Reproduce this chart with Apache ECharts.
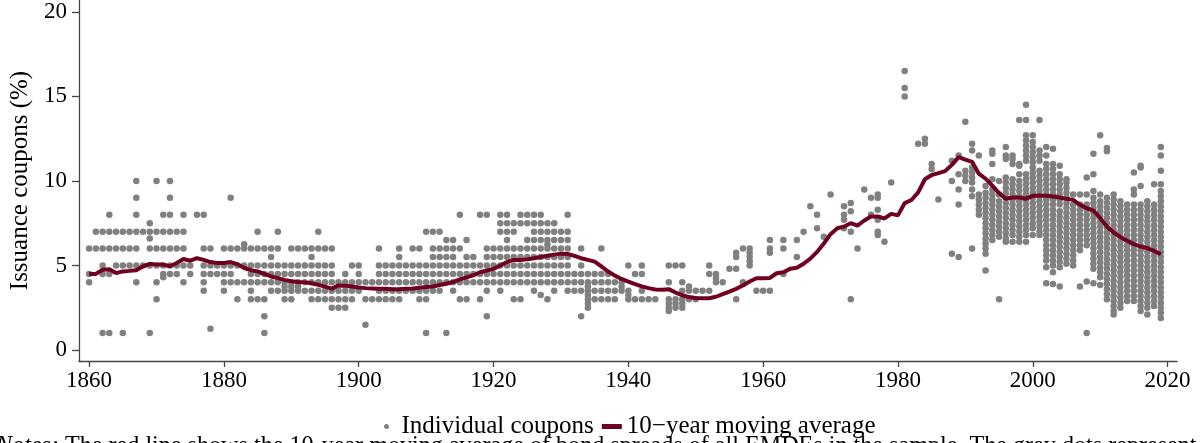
<!DOCTYPE html>
<html>
<head>
<meta charset="UTF-8">
<title>Issuance coupons</title>
<script src="https://cdn.jsdelivr.net/npm/echarts@6/dist/echarts.min.js"></script>
<style>
    html, body { margin: 0; padding: 0; background: #fff; }
    #main { width: 1200px; height: 443px; }
</style>
</head>
<body>
<div id="main"></div>
<script>
// tick labels
var xTicks = [1860, 1880, 1900, 1920, 1940, 1960, 1980, 2000, 2020];
var yTicks = [0, 5, 10, 15, 20];

// 10-year moving average
var maYears = [1860, 1861, 1862, 1863, 1864, 1865, 1866, 1867, 1868, 1869,
    1870, 1871, 1872, 1873, 1874, 1875, 1876, 1877, 1878, 1879,
    1880, 1881, 1882, 1883, 1884, 1885, 1886, 1887, 1888, 1889,
    1890, 1891, 1892, 1893, 1894, 1895, 1896, 1897, 1898, 1899,
    1900, 1901, 1902, 1903, 1904, 1905, 1906, 1907, 1908, 1909,
    1910, 1911, 1912, 1913, 1914, 1915, 1916, 1917, 1918, 1919,
    1920, 1921, 1922, 1923, 1924, 1925, 1926, 1927, 1928, 1929,
    1930, 1931, 1932, 1933, 1934, 1935, 1936, 1937, 1938, 1939,
    1940, 1941, 1942, 1943, 1944, 1945, 1946, 1947, 1948, 1949,
    1950, 1951, 1952, 1953, 1954, 1955, 1956, 1957, 1958, 1959,
    1960, 1961, 1962, 1963, 1964, 1965, 1966, 1967, 1968, 1969,
    1970, 1971, 1972, 1973, 1974, 1975, 1976, 1977, 1978, 1979,
    1980, 1981, 1982, 1983, 1984, 1985, 1986, 1987, 1988, 1989,
    1990, 1991, 1992, 1993, 1994, 1995, 1996, 1997, 1998, 1999,
    2000, 2001, 2002, 2003, 2004, 2005, 2006, 2007, 2008, 2009,
    2010, 2011, 2012, 2013, 2014, 2015, 2016, 2017, 2018, 2019];
var maValues = [4.49, 4.5, 4.75, 4.78, 4.55, 4.65, 4.68, 4.72, 4.95, 5.1,
    5.05, 5.05, 4.95, 5.15, 5.38, 5.28, 5.43, 5.33, 5.2, 5.15,
    5.15, 5.2, 5.08, 4.85, 4.72, 4.65, 4.5, 4.35, 4.25, 4.15,
    4.07, 4.02, 4.0, 3.95, 3.85, 3.75, 3.63, 3.82, 3.8, 3.75,
    3.7, 3.66, 3.64, 3.62, 3.63, 3.6, 3.6, 3.62, 3.64, 3.68,
    3.72, 3.76, 3.84, 3.92, 4.02, 4.18, 4.3, 4.42, 4.6, 4.7,
    4.8, 5.0, 5.2, 5.33, 5.33, 5.36, 5.43, 5.5, 5.57, 5.64,
    5.7, 5.68, 5.57, 5.43, 5.33, 5.23, 4.95, 4.64, 4.4, 4.2,
    4.05, 3.9, 3.76, 3.66, 3.58, 3.56, 3.6, 3.4, 3.24, 3.13,
    3.08, 3.06, 3.06, 3.15, 3.3, 3.45, 3.62, 3.82, 4.05, 4.24,
    4.25, 4.26, 4.54, 4.6, 4.8, 4.86, 5.1, 5.4, 5.8, 6.3,
    6.85, 7.2, 7.3, 7.5, 7.36, 7.66, 7.9, 7.9, 7.78, 8.05,
    7.96, 8.69, 8.87, 9.32, 10.1, 10.35, 10.46, 10.58, 10.95, 11.41,
    11.26, 11.13, 10.43, 10.13, 9.72, 9.28, 8.95, 9.02, 9.02, 8.95,
    9.12, 9.14, 9.12, 9.08, 9.02, 8.94, 8.88, 8.59, 8.39, 8.25,
    7.8, 7.3, 6.95, 6.67, 6.46, 6.26, 6.12, 6.02, 5.86, 5.66];

// individual coupons 1860-1966: coupon level -> years with a bond at that level
var couponRowsEarly = [
    [10, [1867, 1870, 1872]],
    [9, [1867, 1872, 1881]],
    [8, [1863, 1867, 1871, 1872, 1874, 1876, 1877, 1915, 1918, 1919, 1921, 1922, 1924, 1925, 1926, 1927, 1931]],
    [7.5, [1869, 1921, 1922, 1923, 1924, 1925, 1926, 1927, 1928, 1929]],
    [7, [1861, 1862, 1863, 1864, 1865, 1866, 1867, 1868, 1869, 1870, 1871, 1872, 1873, 1874, 1885, 1888, 1894,
        1910, 1911, 1912, 1921, 1922, 1923, 1926, 1927, 1928, 1929, 1930, 1931, 1966]],
    [6.6, [1869]],
    [6.5, [1913, 1914, 1916, 1922, 1925, 1926, 1927, 1928, 1929, 1930, 1931, 1961, 1963, 1965]],
    [6.25, [1883, 1928]],
    [6, [1860, 1861, 1862, 1863, 1864, 1865, 1866, 1867, 1869, 1870, 1871, 1872, 1873, 1874, 1877, 1878,
        1880, 1881, 1882, 1883, 1884, 1885, 1886, 1887, 1888, 1890, 1891, 1892, 1893, 1894, 1895, 1896,
        1903, 1906, 1908, 1909, 1911, 1912, 1913, 1914, 1915, 1919, 1920, 1921, 1922, 1923, 1924, 1925,
        1926, 1927, 1928, 1929, 1930, 1931, 1933, 1936, 1957, 1958, 1961, 1963]],
    [5.75, [1956, 1958, 1961]],
    [5.5, [1887, 1893, 1906, 1911, 1912, 1913, 1914, 1916, 1917, 1919, 1920, 1921, 1922, 1923, 1924, 1925,
        1926, 1927, 1928, 1929, 1930, 1931, 1956, 1958, 1965]],
    [5.25, [1958]],
    [5, [1862, 1864, 1865, 1866, 1867, 1868, 1869, 1870, 1871, 1872, 1873, 1874, 1875, 1877, 1878, 1879,
        1880, 1881, 1882, 1883, 1884, 1885, 1886, 1887, 1888, 1889, 1890, 1891, 1892, 1893, 1894, 1895,
        1896, 1899, 1900, 1903, 1904, 1905, 1906, 1907, 1908, 1909, 1910, 1911, 1912, 1913, 1914, 1915,
        1916, 1917, 1918, 1919, 1920, 1921, 1922, 1923, 1924, 1925, 1926, 1927, 1928, 1929, 1930, 1931,
        1933, 1940, 1942, 1946, 1947, 1948, 1952, 1958]],
    [4.8, [1955, 1956]],
    [4.5, [1860, 1862, 1863, 1871, 1872, 1873, 1875, 1877, 1878, 1879, 1880, 1881, 1884, 1885, 1886, 1887,
        1888, 1889, 1890, 1891, 1892, 1893, 1894, 1895, 1896, 1898, 1900, 1903, 1904, 1905, 1906, 1907,
        1908, 1909, 1910, 1911, 1912, 1913, 1914, 1915, 1916, 1917, 1918, 1919, 1920, 1921, 1922, 1923,
        1924, 1925, 1926, 1927, 1928, 1929, 1930, 1931, 1932, 1933, 1934, 1935, 1936, 1937, 1941, 1942,
        1952, 1953, 1963]],
    [4.3, [1871]],
    [4.25, [1953]],
    [4, [1860, 1867, 1870, 1874, 1877, 1880, 1881, 1882, 1883, 1884, 1885, 1886, 1887, 1888, 1889, 1890,
        1891, 1892, 1893, 1894, 1895, 1896, 1897, 1898, 1899, 1900, 1901, 1902, 1903, 1904, 1905, 1906,
        1907, 1908, 1909, 1910, 1911, 1912, 1913, 1914, 1915, 1916, 1917, 1918, 1919, 1920, 1921, 1922,
        1923, 1924, 1925, 1926, 1927, 1928, 1929, 1930, 1931, 1932, 1933, 1934, 1935, 1936, 1937, 1938,
        1939, 1946, 1948, 1953, 1954, 1957]],
    [3.75, [1889, 1890, 1891, 1934, 1939, 1949]],
    [3.5, [1877, 1880, 1884, 1887, 1888, 1889, 1890, 1891, 1892, 1893, 1894, 1895, 1896, 1897, 1898, 1899,
        1900, 1903, 1904, 1905, 1906, 1907, 1908, 1909, 1910, 1911, 1912, 1914, 1919, 1921, 1926, 1929,
        1931, 1932, 1933, 1934, 1935, 1936, 1937, 1938, 1939, 1940, 1942, 1948, 1949, 1950, 1951, 1952,
        1959, 1960, 1961]],
    [3.25, [1927, 1934, 1940]],
    [3, [1870, 1882, 1884, 1885, 1886, 1889, 1890, 1893, 1894, 1895, 1896, 1897, 1898, 1899, 1901, 1902,
        1903, 1904, 1905, 1906, 1909, 1910, 1915, 1916, 1918, 1923, 1924, 1928, 1934, 1935, 1936, 1937,
        1938, 1940, 1941, 1942, 1943, 1944, 1946, 1947, 1948, 1949, 1950, 1956]],
    [2.75, [1934, 1946, 1947, 1948]],
    [2.5, [1896, 1897, 1898, 1934, 1946, 1947, 1948]],
    [2.3, [1946]],
    [2, [1886, 1919, 1933]],
    [1.5, [1901]],
    [1.25, [1878]],
    [1, [1862, 1863, 1865, 1869, 1886, 1910, 1913]]
];

// individual coupons 1967-2019: year -> coupons issued that year
var couponColsModern = [
    [1967, [8.5]],
    [1968, [8.0, 7.2]],
    [1969, [6.7]],
    [1970, [9.2]],
    [1972, [8.5, 8.0, 7.7, 7.2]],
    [1973, [8.7, 8.2, 7.0, 3.0]],
    [1974, [6.0]],
    [1975, [9.5]],
    [1976, [9.0, 8.0]],
    [1977, [9.2, 9.0, 8.3, 7.7, 7.0, 6.8]],
    [1978, [6.4]],
    [1979, [9.9]],
    [1981, [16.5, 15.5, 15.0]],
    [1983, [12.2]],
    [1984, [12.5, 12.2]],
    [1985, [11.0, 10.7]],
    [1986, [8.9]],
    [1988, [11.2, 10.0, 5.7]],
    [1989, [11.5, 10.4, 9.5, 8.6, 5.5]],
    [1990, [13.5, 10.6, 10.3, 10.0]],
    [1991, [12.2, 11.8, 10.8, 10.5, 10.2, 9.9, 9.5, 9.1, 6.0]],
    [1992, [11.5, 9.2, 8.9, 8.6, 8.3, 8.0]],
    [1993, [9.7, 9.3, 9.0, 8.7, 8.4, 8.1, 7.8, 7.5, 7.2, 6.9, 6.6, 6.3, 6.0, 5.7, 4.7]],
    [1994, [11.8, 11.6, 11.0, 10.1, 9.5, 9.2, 8.9, 8.6, 8.3, 8.0, 7.7, 7.4, 7.1, 6.8, 6.5]],
    [1995, [10.0, 9.2, 8.8, 8.5, 8.2, 7.9, 7.6, 7.3, 7.0, 6.7, 3.0]],
    [1996, [12.0, 11.5, 11.3, 10.2, 9.9, 9.6, 9.3, 9.0, 8.7, 8.4, 8.1, 7.8, 7.5, 7.2, 6.9, 6.6, 6.4]],
    [1997, [11.5, 11.3, 11.0, 10.1, 9.8, 9.5, 9.2, 8.9, 8.6, 8.3, 8.0, 7.7, 7.4, 7.1, 6.8, 6.4]],
    [1998, [13.6, 11.0, 10.9, 10.4, 10.0, 9.7, 9.4, 9.1, 8.8, 8.5, 8.2, 7.9, 7.6, 7.3, 7.0, 6.7, 6.4]],
    [1999, [14.5, 13.6, 12.7, 12.4, 12.1, 11.8, 11.5, 11.2, 10.4, 10.1, 9.8, 9.5, 9.2, 8.9, 8.6, 8.3, 8.0,
        7.7, 7.4, 7.1, 6.8, 6.4]],
    [2000, [12.7, 12.3, 12.0, 11.7, 11.4, 11.1, 10.8, 10.5, 10.2, 9.9, 9.6, 9.3, 9.0, 8.7, 8.4, 8.1, 7.8,
        7.5, 7.2, 6.8]],
    [2001, [13.6, 11.8, 11.5, 11.2, 10.6, 10.3, 10.0, 9.7, 9.4, 9.1, 8.8, 8.5, 8.2, 7.9, 7.6, 7.3, 7.0, 6.8]],
    [2002, [12.0, 11.5, 11.0, 10.7, 10.4, 10.1, 9.8, 9.5, 9.2, 8.9, 8.6, 8.3, 8.0, 7.7, 7.4, 7.1, 6.8, 6.5,
        6.2, 5.9, 5.6, 5.3, 4.9, 3.95]],
    [2003, [11.9, 11.0, 10.7, 10.4, 10.1, 9.8, 9.5, 9.2, 8.9, 8.6, 8.3, 8.0, 7.7, 7.4, 7.1, 6.8, 6.5, 6.2,
        5.9, 5.6, 5.3, 5.0, 4.6, 3.9]],
    [2004, [10.9, 10.4, 10.1, 9.8, 9.5, 9.2, 8.9, 8.6, 8.2, 7.9, 7.6, 7.3, 7.0, 6.7, 6.4, 6.1, 5.8, 5.5,
        5.2, 4.9, 3.75]],
    [2005, [10.1, 9.9, 9.6, 9.3, 9.0, 8.7, 8.4, 8.1, 7.8, 7.5, 7.2, 6.9, 6.6, 6.3, 6.0, 5.7, 5.4, 5.1]],
    [2006, [9.2, 8.6, 8.3, 8.0, 7.7, 7.4, 7.1, 6.8, 6.5, 6.2, 5.9, 5.6, 5.3, 5.0]],
    [2007, [9.2, 8.6, 8.3, 8.0, 7.7, 7.4, 7.1, 6.8, 6.5, 6.2, 5.9, 3.75]],
    [2008, [10.2, 9.2, 8.6, 8.3, 8.0, 7.7, 7.4, 7.1, 6.8, 6.5, 6.2, 4.05, 1.0]],
    [2009, [11.6, 10.4, 9.4, 9.0, 8.7, 8.4, 8.1, 7.8, 7.5, 7.2, 6.9, 6.6, 6.3, 6.0, 5.7, 5.4, 5.1, 4.8, 3.95]],
    [2010, [12.7, 9.2, 8.8, 8.5, 8.2, 7.9, 7.6, 7.3, 7.0, 6.7, 6.4, 6.1, 5.8, 5.5, 5.2, 4.9, 4.6, 4.3, 3.85]],
    [2011, [11.95, 11.75, 9.0, 8.7, 8.4, 8.1, 7.8, 7.5, 7.2, 6.9, 6.6, 6.3, 6.0, 5.7, 5.4, 5.1, 4.8, 4.5,
        4.2, 3.9, 3.6, 3.3, 3.0]],
    [2012, [9.2, 8.9, 8.6, 8.3, 8.0, 7.7, 7.4, 7.1, 6.8, 6.5, 6.2, 5.9, 5.6, 5.3, 5.0, 4.7, 4.4, 4.1, 3.8,
        3.5, 3.2, 2.9, 2.6, 2.3, 2.1]],
    [2013, [8.8, 8.5, 8.2, 7.9, 7.6, 7.3, 7.0, 6.7, 6.4, 6.1, 5.8, 5.5, 5.2, 4.9, 4.6, 4.3, 4.0, 3.7, 3.4,
        3.1, 2.8, 2.5]],
    [2014, [8.6, 8.3, 8.0, 7.7, 7.4, 7.1, 6.8, 6.5, 6.2, 5.9, 5.6, 5.3, 5.0, 4.7, 4.4, 4.1, 3.8, 3.5, 3.2, 2.9]],
    [2015, [10.5, 9.5, 9.2, 8.6, 8.3, 8.0, 7.7, 7.4, 7.1, 6.8, 6.5, 6.2, 5.9, 5.6, 5.3, 5.0, 4.7, 4.4, 4.1,
        3.8, 3.5, 3.2, 2.9]],
    [2016, [10.9, 10.8, 9.7, 8.6, 8.3, 8.0, 7.7, 7.4, 7.1, 6.8, 6.5, 6.2, 5.9, 5.6, 5.3, 5.0, 4.7, 4.4, 4.1,
        3.8, 3.5, 3.2, 2.9, 2.6, 2.3]],
    [2017, [8.8, 8.5, 8.2, 7.9, 7.6, 7.3, 7.0, 6.7, 6.4, 6.1, 5.8, 5.5, 5.2, 4.9, 4.6, 4.3, 4.0, 3.7, 3.4,
        3.1, 2.8, 2.5, 2.1]],
    [2018, [9.8, 8.6, 8.3, 8.0, 7.7, 7.4, 7.1, 6.8, 6.5, 6.2, 5.9, 5.6, 5.3, 5.0, 4.7, 4.4, 4.1, 3.8, 3.5,
        3.2, 2.9, 2.6]],
    [2019, [12.0, 11.5, 10.6, 9.8, 9.4, 9.1, 8.8, 8.5, 8.2, 7.9, 7.6, 7.3, 7.0, 6.7, 6.4, 6.1, 5.8, 5.5,
        5.2, 4.9, 4.6, 4.3, 4.0, 3.7, 3.4, 3.1, 2.8, 2.5, 2.2, 1.9]]
];

var dots = [];
couponRowsEarly.forEach(function (row) {
    row[1].forEach(function (yr) { dots.push([yr, row[0]]); });
});
couponColsModern.forEach(function (col) {
    col[1].forEach(function (v) { dots.push([col[0], v]); });
});
var maLine = maYears.map(function (yr, i) { return [yr, maValues[i]]; });

var serif = 'Liberation Serif';
var axisColor = '#444';
var lineColor = '#700020';

var myChart = echarts.init(document.getElementById('main'));
var option = {
    animation: false,
    backgroundColor: '#fff',
    textStyle: { fontFamily: serif, color: '#000' },
    grid: { left: 77, right: 23, top: 0, bottom: 82 },
    xAxis: {
        type: 'value',
        min: 1858.5,
        max: 2021.4,
        axisLine: { show: true, onZero: false, lineStyle: { color: axisColor, width: 1.3 } },
        axisTick: { show: true, length: 6, customValues: xTicks, lineStyle: { color: axisColor, width: 1.3 } },
        axisLabel: {
            customValues: xTicks, fontSize: 23, color: '#000', fontFamily: serif, margin: 8,
            formatter: function (v) { return String(v); }
        },
        splitLine: { show: false }
    },
    yAxis: {
        type: 'value',
        min: -0.65,
        max: 20.7,
        name: 'Issuance coupons (%)',
        nameLocation: 'middle',
        nameGap: 46,
        nameTextStyle: { fontSize: 25, fontFamily: serif, color: '#000' },
        axisLine: { show: true, onZero: false, lineStyle: { color: axisColor, width: 1.3 } },
        axisTick: { show: true, length: 7, customValues: yTicks, lineStyle: { color: axisColor, width: 1.3 } },
        axisLabel: {
            customValues: yTicks, fontSize: 23, color: '#000', fontFamily: serif, margin: 12,
            formatter: function (v) { return String(v); }
        },
        splitLine: { show: false }
    },
    legend: {
        left: 379,
        top: 409,
        itemWidth: 20,
        itemHeight: 5,
        itemGap: 8,
        textStyle: { fontSize: 25, fontFamily: serif, color: '#000' },
        data: [
            { name: 'Individual coupons', icon: 'circle' },
            { name: '10\u2212year moving average', icon: 'rect' }
        ]
    },
    graphic: [{
        type: 'text',
        left: -4,
        top: 434,
        scaleX: 0.965,
        z: 1,
        style: {
            text: '{i|Notes:} The red line shows the 10-year moving average of bond spreads of all EMDEs in the sample. The grey dots represent',
            fontSize: 25,
            fontFamily: serif,
            fill: '#000',
            rich: { i: { fontStyle: 'italic', fontSize: 25, fontFamily: serif } }
        }
    }],
    series: [
        {
            name: 'Individual coupons',
            type: 'scatter',
            data: dots,
            symbol: 'circle',
            symbolSize: 6.5,
            itemStyle: { color: '#808080', opacity: 1 },
            silent: true,
            z: 2
        },
        {
            name: '10\u2212year moving average',
            type: 'line',
            data: maLine,
            symbol: 'none',
            lineStyle: { color: lineColor, width: 4 },
            itemStyle: { color: lineColor },
            silent: true,
            z: 3
        }
    ]
};
myChart.setOption(option);
</script>
</body>
</html>
